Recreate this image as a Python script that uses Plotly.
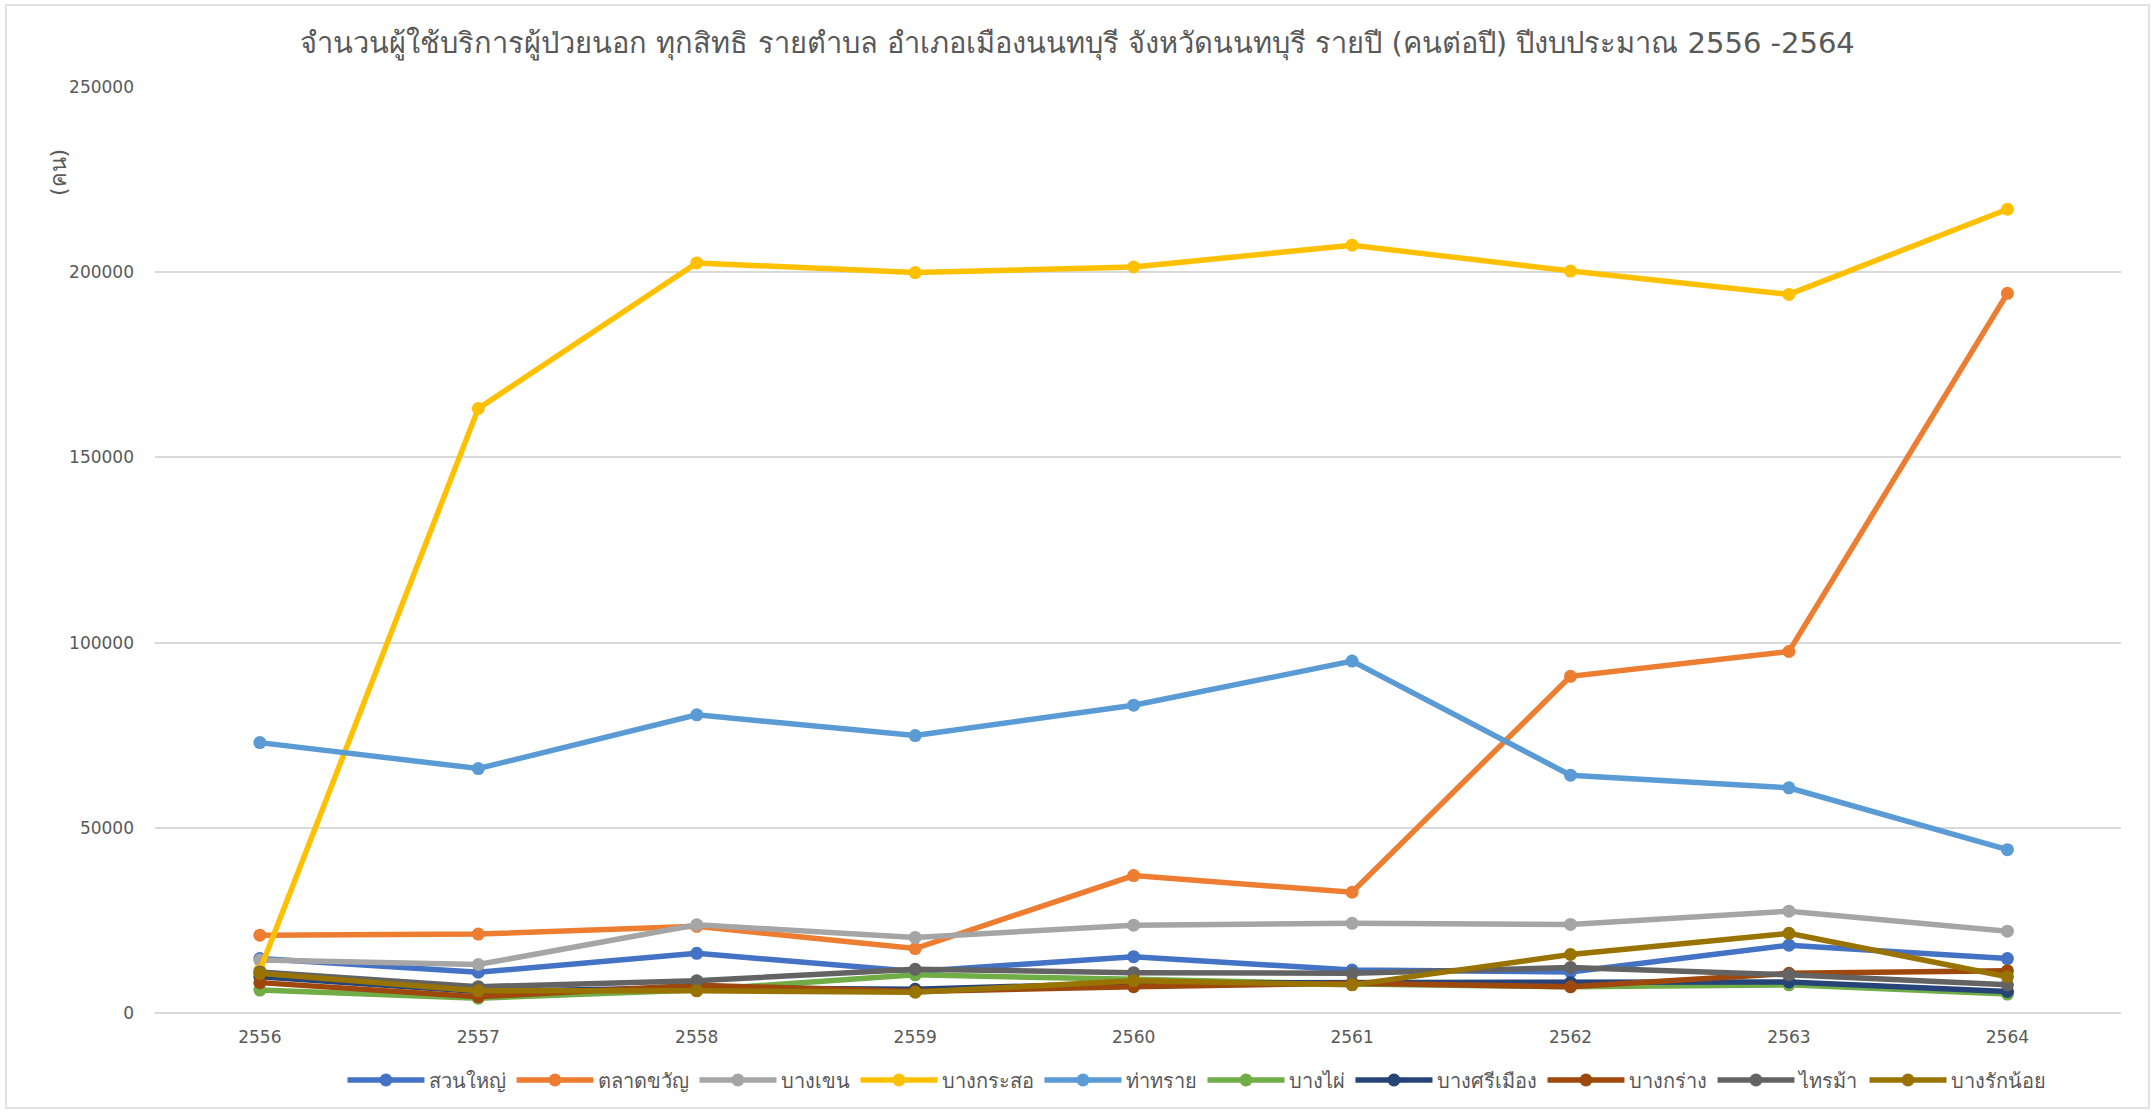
import plotly.graph_objects as go

years = [2556, 2557, 2558, 2559, 2560, 2561, 2562, 2563, 2564]

suan_yai = [14700, 11000, 16100, 11200, 15200, 11600, 11100, 18300, 14700]
talat_khwan = [21000, 21300, 23400, 17400, 37100, 32600, 90900, 97600, 194300]
bang_khen = [14300, 13100, 23800, 20400, 23700, 24200, 23900, 27500, 22100]
bang_kraso = [11500, 163200, 202500, 199900, 201400, 207300, 200300, 194000, 217000]
tha_sai = [73000, 66000, 80500, 74900, 83100, 95000, 64200, 60800, 44100]
bang_phai = [6200, 4000, 6200, 10300, 9100, 7800, 7100, 7600, 5100]
bang_si_mueang = [9800, 5800, 6800, 6400, 8100, 8100, 8200, 8400, 5800]
bang_krang = [8200, 4400, 7500, 5800, 7100, 8000, 7100, 10700, 11400]
sai_ma = [11100, 7100, 8700, 11800, 10900, 10700, 12300, 10300, 7600]
bang_rak_noi = [10700, 6000, 6000, 5600, 8700, 7600, 15800, 21500, 9800]

series_names = ["สวนใหญ่", "ตลาดขวัญ", "บางเขน", "บางกระสอ", "ท่าทราย",
                "บางไผ่", "บางศรีเมือง", "บางกร่าง", "ไทรม้า", "บางรักน้อย"]
series_values = [suan_yai, talat_khwan, bang_khen, bang_kraso, tha_sai,
                 bang_phai, bang_si_mueang, bang_krang, sai_ma, bang_rak_noi]
colors = ["#4472C4", "#ED7D31", "#A5A5A5", "#FFC000", "#5B9BD5",
          "#70AD47", "#264478", "#9E480E", "#636363", "#997300"]

y_ticks = [0, 50000, 100000, 150000, 200000, 250000]

title_text = "จำนวนผู้ใช้บริการผู้ป่วยนอก ทุกสิทธิ รายตำบล อำเภอเมืองนนทบุรี จังหวัดนนทบุรี รายปี (คนต่อปี) ปีงบประมาณ 2556 -2564"
y_title = "(คน)"

FONT = "Tahoma, DejaVu Sans, Noto Sans, sans-serif"

fig = go.Figure()
for name, vals, col in zip(series_names, series_values, colors):
    fig.add_trace(go.Scatter(
        x=years, y=vals, name=name, mode="lines+markers",
        line=dict(color=col, width=5.5),
        marker=dict(color=col, size=13),
    ))

W, H = 2155, 1113
L, R, T, B = 155, 34, 87, 100
pw, ph = W - L - R, H - T - B

fig.update_layout(
    width=W, height=H,
    margin=dict(l=L, r=R, t=T, b=B, autoexpand=False),
    paper_bgcolor="white", plot_bgcolor="white",
    font=dict(family=FONT, color="#595959", size=17),
    title=dict(text=title_text, x=0.5, xref="container", xanchor="center",
               y=1 - 43 / H, yref="container", yanchor="middle",
               font=dict(size=29, color="#595959", family=FONT)),
    showlegend=True,
    legend=dict(orientation="h", x=0.53, xanchor="center",
                y=-(1080 - (T + ph)) / ph, yanchor="middle",
                font=dict(size=20, color="#595959"),
                itemwidth=77, tracegroupgap=0, bgcolor="rgba(0,0,0,0)"),
    xaxis=dict(range=[2555.52, 2564.52], tickmode="array", tickvals=years,
               ticktext=[str(y) for y in years], showgrid=False, zeroline=False,
               showline=False, ticks="", tickfont=dict(size=17, color="#595959"),
               ticklabelstandoff=12),
    yaxis=dict(range=[0, 250000], tickmode="array", tickvals=y_ticks,
               ticktext=[str(v) for v in y_ticks], showgrid=True,
               gridcolor="#D9D9D9", gridwidth=1.5, zeroline=True,
               zerolinecolor="#D9D9D9", zerolinewidth=1.5, showline=False,
               ticks="", tickfont=dict(size=17, color="#595959"),
               ticklabelstandoff=20),
)

fig.add_annotation(text=y_title, xref="paper", yref="paper",
                   x=(58 - L) / pw, y=(T + ph - 173) / ph, textangle=-90,
                   showarrow=False, xanchor="center", yanchor="middle",
                   font=dict(size=22, color="#595959", family=FONT))

fig.add_shape(type="rect", xref="paper", yref="paper",
              x0=(6 - L) / pw, x1=(W - 6 - L) / pw,
              y0=(T + ph - (H - 5)) / ph, y1=(T + ph - 5) / ph,
              line=dict(color="#D9D9D9", width=1.5), fillcolor="rgba(0,0,0,0)",
              layer="below")

fig.write_html("out.html", config={"displayModeBar": False},
               post_script="document.body.style.margin='0';")
